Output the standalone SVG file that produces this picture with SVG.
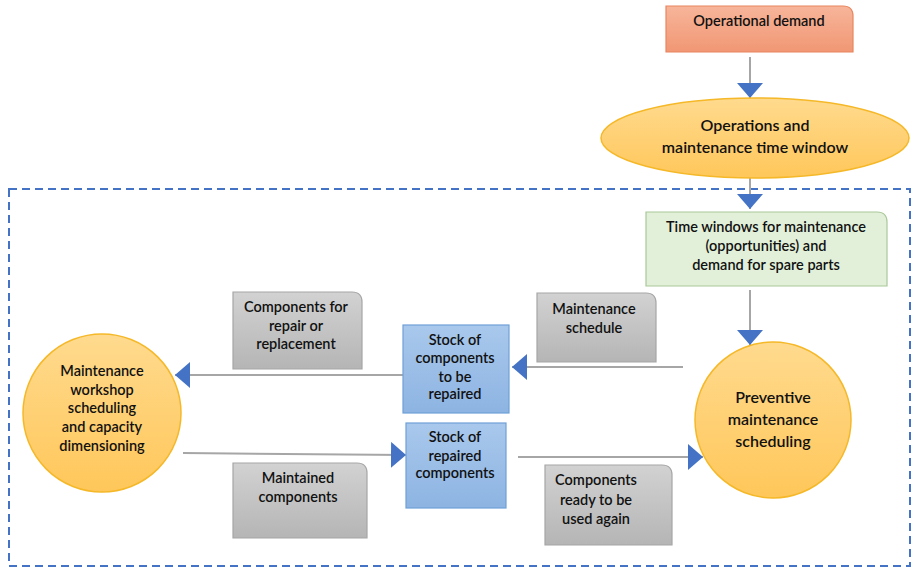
<svg xmlns="http://www.w3.org/2000/svg" width="913" height="570" viewBox="0 0 913 570">
<defs>
<linearGradient id="gSalmon" x1="0" y1="0" x2="0" y2="1"><stop offset="0" stop-color="#F7B59A"/><stop offset="1" stop-color="#F19774"/></linearGradient>
<linearGradient id="gYellow" x1="0" y1="0" x2="0" y2="1"><stop offset="0" stop-color="#FFDA8E"/><stop offset="1" stop-color="#FFC75A"/></linearGradient>
<linearGradient id="gGray" x1="0" y1="0" x2="0" y2="1"><stop offset="0" stop-color="#D2D2D2"/><stop offset="1" stop-color="#B5B5B5"/></linearGradient>
<linearGradient id="gBlue" x1="0" y1="0" x2="0" y2="1"><stop offset="0" stop-color="#A9C8EC"/><stop offset="1" stop-color="#8DB4E2"/></linearGradient>
<marker id="ah" markerUnits="userSpaceOnUse" markerWidth="16" markerHeight="28" refX="15" refY="13" orient="auto" viewBox="0 0 16 28">
<path d="M0,0 L15,13 L0,26 Z" fill="#4472C4"/>
</marker>
</defs>
<style>
text{font-family:Lato,"Liberation Sans",Arial,sans-serif;font-size:14.5px;font-weight:600;fill:#111;text-anchor:middle}
.big{font-size:16px}
.conn line{stroke:#A6A6A6;stroke-width:2;marker-end:url(#ah)}
.gray{fill:url(#gGray);stroke:#A6A6A6;stroke-width:1.2}
.blue{fill:url(#gBlue);stroke:#6FA0D8;stroke-width:1.2}
.yel{fill:url(#gYellow);stroke:#F5B828;stroke-width:1.5}
</style>
<rect width="913" height="570" fill="#fff"/>
<rect x="9" y="189" width="901" height="377" fill="none" stroke="#4472C4" stroke-width="2" stroke-dasharray="8 5"/>
<g class="conn">
<line x1="750" y1="57" x2="750" y2="98"/>
<line x1="750" y1="178" x2="750" y2="209"/>
<line x1="750" y1="290" x2="750" y2="345"/>
<line x1="403" y1="375" x2="175" y2="375"/>
<line x1="683" y1="367" x2="512" y2="367"/>
<line x1="183" y1="453" x2="406" y2="455"/>
<line x1="518" y1="457" x2="703" y2="457"/>
</g>
<g id="operational-demand">
<path d="M666,6 H843 Q853,6 853,16 V52 H666 Z" fill="url(#gSalmon)" stroke="#E8865E" stroke-width="1.2"/>
<text x="759" y="26">Operational demand</text>
</g>
<g id="ops-window">
<ellipse cx="755" cy="138" rx="154" ry="40" class="yel"/>
<text class="big" x="755" y="131">Operations and</text>
<text class="big" x="755" y="153">maintenance time window</text>
</g>
<g id="time-windows">
<path d="M646,212 H877 Q887,212 887,222 V286 H646 Z" fill="#E2F0D9" stroke="#A9C89A" stroke-width="1.2"/>
<text x="766" y="232">Time windows for maintenance</text>
<text x="766" y="251">(opportunities) and</text>
<text x="766" y="270">demand for spare parts</text>
</g>
<g id="preventive">
<circle cx="773" cy="420" r="78" class="yel"/>
<text class="big" x="773" y="403">Preventive</text>
<text class="big" x="773" y="425">maintenance</text>
<text class="big" x="773" y="447">scheduling</text>
</g>
<g id="workshop">
<circle cx="102" cy="413" r="79" class="yel"/>
<text x="102" y="376">Maintenance</text>
<text x="102" y="395">workshop</text>
<text x="102" y="413">scheduling</text>
<text x="102" y="432">and capacity</text>
<text x="102" y="451">dimensioning</text>
</g>
<g id="label-repair-replacement">
<path d="M233,292 H352 Q362,292 362,302 V369 H233 Z" class="gray"/>
<text x="296" y="312">Components for</text>
<text x="296" y="331">repair or</text>
<text x="296" y="349">replacement</text>
</g>
<g id="stock-to-repair">
<rect x="403" y="325" width="106" height="88" class="blue"/>
<text x="455" y="345">Stock of</text>
<text x="455" y="363">components</text>
<text x="455" y="382">to be</text>
<text x="455" y="399">repaired</text>
</g>
<g id="label-schedule">
<path d="M537,293 H646 Q656,293 656,303 V362 H537 Z" class="gray"/>
<text x="594" y="314">Maintenance</text>
<text x="594" y="333">schedule</text>
</g>
<g id="stock-repaired">
<rect x="406" y="423" width="100" height="85" class="blue"/>
<text x="455" y="442">Stock of</text>
<text x="455" y="461">repaired</text>
<text x="455" y="478">components</text>
</g>
<g id="label-maintained">
<path d="M233,463 H357 Q367,463 367,473 V538 H233 Z" class="gray"/>
<text x="298" y="483">Maintained</text>
<text x="298" y="502">components</text>
</g>
<g id="label-ready">
<path d="M545,465 H662 Q672,465 672,475 V545 H545 Z" class="gray"/>
<text x="596" y="485">Components</text>
<text x="596" y="505">ready to be</text>
<text x="596" y="524">used again</text>
</g>
</svg>
